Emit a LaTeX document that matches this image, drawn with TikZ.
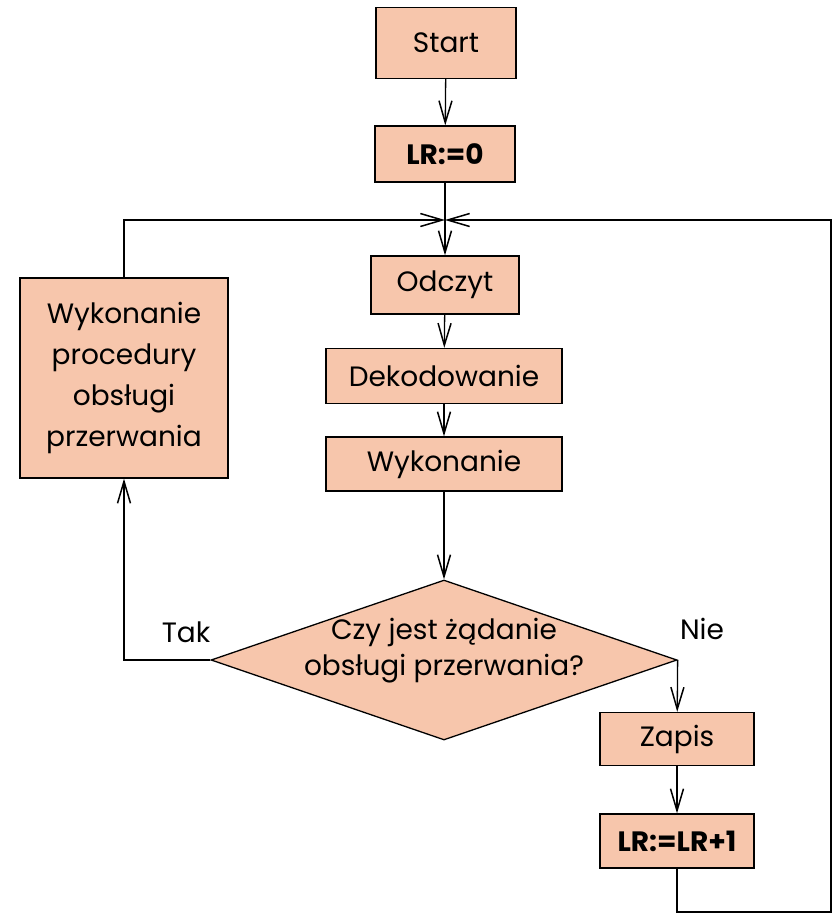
\documentclass[tikz,border=0pt]{standalone}
\usepackage{fontspec}
\setmainfont{Poppins}
\usetikzlibrary{arrows.meta,shapes.geometric}
\definecolor{boxfill}{HTML}{F7C6AC}

\begin{document}
\begin{tikzpicture}[x=1pt,y=-1pt,
    box/.style={draw,fill=boxfill,line width=1.3pt,inner sep=0pt,
      font=\fontsize{28}{34}\selectfont},
    decision/.style={diamond,draw,fill=boxfill,line width=1.3pt,inner sep=0pt,
      aspect=2.9},
    flow/.style={line width=1.3pt,-{Straight Barb[length=22pt,width=13pt,line width=1.5pt]}},
    answer/.style={font=\fontsize{28}{34}\selectfont}]
  \useasboundingbox (0,0) rectangle (837,914);
  % main column
  \node[box,minimum width=140pt,minimum height=71pt] (start) at (446,43) {Start};
  \node[box,minimum width=140pt,minimum height=56pt,font=\fontsize{28}{34}\selectfont\bfseries] (lrzero) at (445,154) {LR:=0};
  \coordinate (join) at (445,220);
  \node[box,minimum width=148pt,minimum height=58pt] (odczyt) at (445,285) {Odczyt};
  \node[box,minimum width=236pt,minimum height=55pt] (dekod) at (444,376) {Dekodowanie};
  \node[box,minimum width=236pt,minimum height=54pt] (wykon) at (444,464) {Wykonanie};
  \node[decision,minimum width=466pt,minimum height=160pt,
    label={[align=center,font=\fontsize{28}{36}\selectfont,yshift=9pt]center:Czy jest żądanie\\obsługi przerwania?}]
    (query) at (444,660) {};
  % interrupt branch
  \node[box,minimum width=208pt,minimum height=200pt,align=center,
    font=\fontsize{28}{41}\selectfont] (isr) at (124,378)
    {Wykonanie\\procedury\\obsługi\\przerwania};
  % normal branch
  \node[box,minimum width=154pt,minimum height=53pt] (zapis) at (677,739) {Zapis};
  \node[box,minimum width=154pt,minimum height=54pt,font=\fontsize{28}{34}\selectfont\bfseries] (lrinc) at (677,841) {LR:=LR+1};
  \coordinate (loopcorner) at (831,912);
  \node[answer] (tak) at (186,632) {Tak};
  \node[answer] (nie) at (702,629) {Nie};
  % connectors
  \draw[flow] (start) -- (lrzero);
  \draw[line width=1.3pt] (lrzero) -- (join);
  \draw[flow] (join) -- (odczyt);
  \draw[flow] (odczyt) -- (dekod);
  \draw[flow] (dekod) -- (wykon);
  \draw[flow] (wykon) -- (query);
  \draw[flow] (query.west) -| (isr);
  \draw[flow] (isr) |- (join);
  \draw[flow] (query.east) -- (zapis);
  \draw[flow] (zapis) -- (lrinc);
  \draw[flow] (lrinc) |- (loopcorner) |- (join);
\end{tikzpicture}
\end{document}
